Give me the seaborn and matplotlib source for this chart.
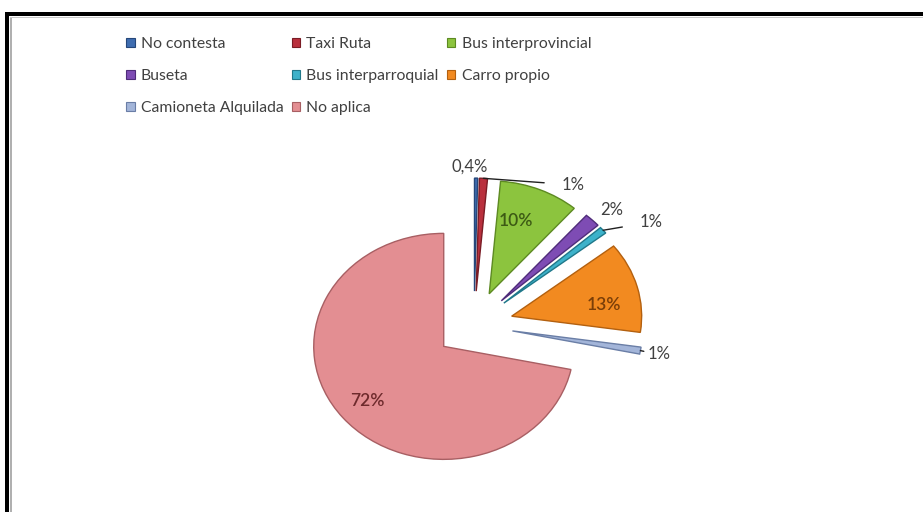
import matplotlib
matplotlib.use("Agg")
import matplotlib.pyplot as plt
from matplotlib.patches import Rectangle, Patch
import numpy as np
import seaborn as sns

# Transport mode shares (%)
categories = ["No contesta", "Taxi Ruta", "Bus interprovincial", "Buseta",
              "Bus interparroquial", "Carro propio", "Camioneta Alquilada", "No aplica"]
values = [0.4, 1, 10, 2, 1, 13, 1, 72]
colors = ["#3F6DB0", "#B9303D", "#8CC43E", "#7E4CB4",
          "#3DB2CA", "#F28A20", "#A3B5D9", "#E38E92"]
edge_colors = ["#25477A", "#7A1C25", "#5D8A22", "#4F2C7A",
               "#20788A", "#B3600F", "#6A7EA6", "#A85F63"]
inner_text_colors = {2: "#3C5A14", 5: "#7A3E08", 7: "#6E2A2C"}

sns.set_theme(style="white")
plt.rcParams["font.family"] = ["Lato", "DejaVu Sans"]

W, H = 923, 512
fig = plt.figure(figsize=(W / 100, H / 100), dpi=100)
fig.patch.set_facecolor("white")

# pie axes: unit radius maps to ~130 px wide, ~113 px tall (tilted look)
cx, cy, rx, ry, L = 474, 325, 130, 113, 1.6
ax = fig.add_axes([(cx - L * rx) / W, (H - cy - L * ry) / H,
                   2 * L * rx / W, 2 * L * ry / H])

labels_txt = [f"{v:g}%".replace(".", ",") for v in values]
wedges, _ = ax.pie(values, colors=colors, startangle=90, counterclock=False,
                   explode=[0.3] * len(values),
                   wedgeprops=dict(linewidth=1.0))
for w, ec in zip(wedges, edge_colors):
    w.set_edgecolor(ec)

ax.set_aspect("auto")
ax.set_xlim(-L, L)
ax.set_ylim(-L, L)
ax.axis("off")

def wedge_point(w, r, dtheta=0.0):
    """Point at radius r along the wedge's mid-angle (plus an angular offset)."""
    th = np.deg2rad((w.theta1 + w.theta2) / 2 + dtheta)
    c = np.array(w.center)
    return c + r * np.array([np.cos(th), np.sin(th)])

# inside labels: (radius, angular offset)
inner_pos = {2: (0.68, 5), 5: (0.72, -7), 7: (0.76, 0)}
for i, col in inner_text_colors.items():
    r, dt = inner_pos[i]
    x, y = wedge_point(wedges[i], r, dt)
    ax.text(x, y, labels_txt[i], ha="center", va="center",
            fontsize=12.5, color=col, fontweight="semibold")

lab_col = "#404040"
fs = 12
# No contesta: label just above the sliver
x, y = wedge_point(wedges[0], 1.1)
ax.text(x - 0.05, y, labels_txt[0], ha="center", va="center", fontsize=fs, color=lab_col)

# Outside labels, some with leader lines: index -> text position
outside = {1: (0.76, 1.24), 3: (1.06, 1.02), 4: (1.36, 0.91), 6: (1.42, -0.26)}
for i, (tx, ty) in outside.items():
    if i == 3:
        ax.text(tx, ty, labels_txt[i], ha="center", va="center", fontsize=fs, color=lab_col)
        continue
    px, py = wedge_point(wedges[i], 1.0)
    ax.annotate(labels_txt[i], xy=(px, py), xytext=(tx, ty),
                ha="center", va="center", fontsize=fs, color=lab_col,
                arrowprops=dict(arrowstyle="-", color="#202020", lw=1.0,
                                shrinkA=10, shrinkB=0))

# Legend laid out in three columns, row-wise order
order = [0, 3, 6, 1, 4, 7, 2, 5]
handles = [Patch(facecolor=colors[i], edgecolor=edge_colors[i], linewidth=0.8) for i in order]
fig.legend(handles, [categories[i] for i in order], ncol=3,
           loc="upper left", bbox_to_anchor=(126 / W, 1 - 37 / H),
           frameon=False, fontsize=11.3, handlelength=0.55, handleheight=0.55,
           handletextpad=0.4, columnspacing=0.5, labelspacing=1.15,
           borderpad=0, borderaxespad=0, labelcolor="#404040")

# Chart frame: heavy dark top and left edge with a soft grey inner line
fig.add_artist(Rectangle((5 / W, 0), 4 / W, (H - 12) / H, transform=fig.transFigure,
                         facecolor="black", edgecolor="none"))
fig.add_artist(Rectangle((5 / W, (H - 16) / H), (W - 5) / W, 4 / H, transform=fig.transFigure,
                         facecolor="black", edgecolor="none"))
fig.add_artist(Rectangle((10 / W, 0), 2 / W, (H - 17) / H, transform=fig.transFigure,
                         facecolor="#B0B0B0", edgecolor="none"))
fig.add_artist(Rectangle((10 / W, (H - 18) / H), (W - 10) / W, 1.5 / H, transform=fig.transFigure,
                         facecolor="#C8C8C8", edgecolor="none"))

fig.savefig("out.png", dpi=100, facecolor="white")
